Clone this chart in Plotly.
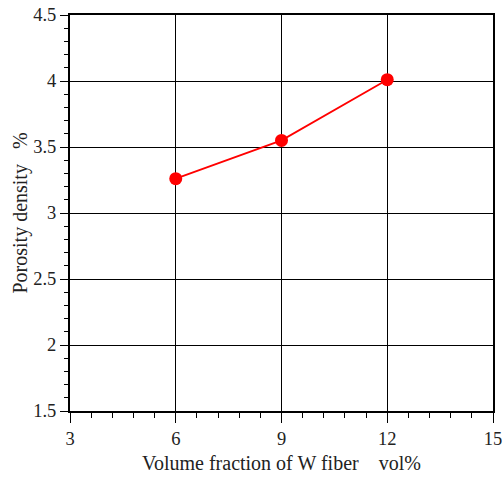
import plotly.graph_objects as go

vol_fraction = [6, 9, 12]
porosity = [3.26, 3.55, 4.01]

x_ticks = [3, 6, 9, 12, 15]
y_ticks = [1.5, 2, 2.5, 3, 3.5, 4, 4.5]

font_family = "Liberation Serif, Times New Roman, serif"
NB = "\u00a0"

fig = go.Figure()
fig.add_trace(go.Scatter(
    x=vol_fraction, y=porosity, mode="lines+markers",
    line=dict(color="#ff0000", width=1.8),
    marker=dict(color="#ff0000", size=13, symbol="circle"),
    showlegend=False,
))

fig.update_layout(
    width=504, height=479,
    margin=dict(l=70, r=11, t=15, b=68),
    paper_bgcolor="white", plot_bgcolor="white",
    font=dict(family=font_family, size=18, color="#222222"),
)

fig.update_xaxes(
    range=[3, 15], tickmode="array", tickvals=x_ticks,
    ticktext=[str(v) for v in x_ticks],
    showline=True, linecolor="black", linewidth=2, mirror=True,
    ticks="outside", ticklen=10, tickwidth=1, tickcolor="black",
    minor=dict(dtick=0.6, tick0=3, ticks="outside", ticklen=5, tickwidth=1,
               tickcolor="black", showgrid=False),
    showgrid=True, gridcolor="black", gridwidth=1,
    zeroline=False, automargin=False,
    ticklabelstandoff=0,
    title=dict(text=NB * 3 + "Volume fraction of W fiber" + NB * 4 + "vol%", standoff=8,
               font=dict(size=20, family=font_family)),
    tickfont=dict(size=18.5, family=font_family),
)

fig.update_yaxes(
    range=[1.5, 4.5], tickmode="array", tickvals=y_ticks,
    ticktext=[f"{v:g}" for v in y_ticks],
    showline=True, linecolor="black", linewidth=2, mirror=True,
    ticks="outside", ticklen=8, tickwidth=1, tickcolor="black",
    minor=dict(dtick=0.1, tick0=1.5, ticks="outside", ticklen=4, tickwidth=1,
               tickcolor="black", showgrid=False),
    showgrid=True, gridcolor="black", gridwidth=1,
    zeroline=False, automargin=False,
    title=dict(text="Porosity density" + NB * 3 + "%", standoff=0,
               font=dict(size=20, family=font_family)),
    tickfont=dict(size=18.5, family=font_family),
)

fig.write_html("out.html")
